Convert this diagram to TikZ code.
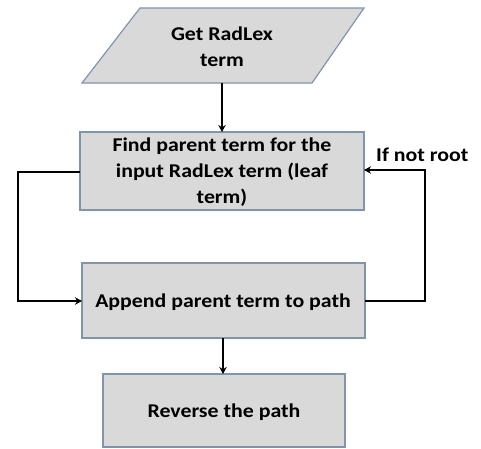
\documentclass[tikz,border=0pt]{standalone}
\usepackage{fontspec}
\setmainfont{Carlito}[FakeStretch=1.12]
\usetikzlibrary{arrows.meta}
\definecolor{boxfill}{HTML}{D9D9D9}
\definecolor{boxline}{HTML}{7F95AD}
\begin{document}
\begin{tikzpicture}[x=1pt,y=-1pt,
  boxstyle/.style={draw=boxline,fill=boxfill,line width=1.2pt},
  lbl/.style={font=\fontsize{19.5}{26}\selectfont\bfseries,align=center,text=black,inner sep=0pt},
  conn/.style={line width=2.2pt,-{Stealth[length=7pt,width=7.5pt]}}]
\useasboundingbox (0,0) rectangle (481,448);
% parallelogram
\draw[boxstyle] (140,8) -- (364,8) -- (312,83) -- (82,83) -- cycle;
\node[lbl] (get) at (222,47) {Get RadLex\\term};
\coordinate (getb) at (222,83);
% box 1
\draw[boxstyle] (80,132) rectangle (364,210);
\node[lbl] (find) at (222,172) {Find parent term for the\\input RadLex term (leaf\\term)};
\coordinate (b1t) at (222,132);
\coordinate (b1l) at (80,172);
\coordinate (b1r) at (364,170);
% box 2
\draw[boxstyle] (82,263) rectangle (365,338);
\node[lbl] (app) at (223,302) {Append parent term to path};
\coordinate (b2l) at (82,301);
\coordinate (b2r) at (365,301);
\coordinate (b2b) at (223,338);
% box 3
\draw[boxstyle] (103,374) rectangle (345,447);
\node[lbl] (rev) at (224,412) {Reverse the path};
\coordinate (b3t) at (223,374);
% label
\node[lbl,anchor=west] (ifnot) at (376,155) {If not root};
% connectors
\draw[conn] (getb) -- (b1t);
\draw[conn] (b1l) -- (18,172) |- (b2l);
\draw[conn] (b2r) -- (425,301) |- (b1r);
\draw[conn] (b2b) -- (b3t);
\end{tikzpicture}
\end{document}
